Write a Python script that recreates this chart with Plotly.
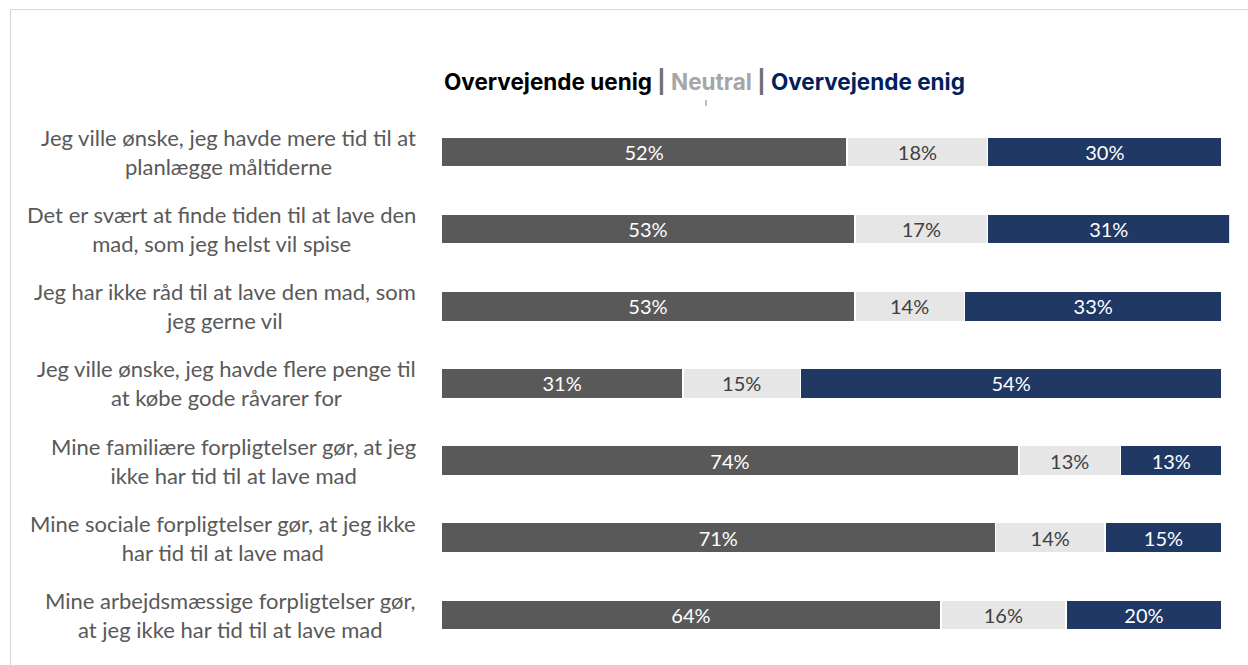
import plotly.graph_objects as go

W, H = 1248, 665

statements = [
    "Jeg ville ønske, jeg havde mere tid til at<br>planlægge måltiderne",
    "Det er svært at finde tiden til at lave den<br>mad, som jeg helst vil spise",
    "Jeg har ikke råd til at lave den mad, som<br>jeg gerne vil",
    "Jeg ville ønske, jeg havde flere penge til<br>at købe gode råvarer for",
    "Mine familiære forpligtelser gør, at jeg<br>ikke har tid til at lave mad",
    "Mine sociale forpligtelser gør, at jeg ikke<br>har tid til at lave mad",
    "Mine arbejdsmæssige forpligtelser gør,<br>at jeg ikke har tid til at lave mad",
]
uenig = [52, 53, 53, 31, 74, 71, 64]
neutral = [18, 17, 14, 15, 13, 14, 16]
enig = [30, 31, 33, 54, 13, 15, 20]

series = [
    ("Overvejende uenig", uenig, "#595959", "white"),
    ("Neutral", neutral, "#E7E6E6", "#404040"),
    ("Overvejende enig", enig, "#203864", "white"),
]

# x axis: 0-100 % spans 441..1222 px; a little headroom for rounded rows summing to 101
X0, X100 = 441, 1222
XMAX = 101
x_end = X0 + (X100 - X0) * XMAX / 100

fig = go.Figure()
for name, vals, color, tcolor in series:
    fig.add_trace(go.Bar(
        y=statements, x=vals, name=name, orientation="h",
        marker=dict(color=color, line=dict(color="white", width=1.5)),
        width=0.39,
        text=[f"{v}%" for v in vals], textposition="inside",
        insidetextanchor="middle", textangle=0,
        textfont=dict(family="Lato", size=20, color=tcolor),
        constraintext="none", cliponaxis=False,
    ))

# statement labels, centred per line, right edge left of the bars
for s in statements:
    fig.add_annotation(
        x=418 / W, xref="paper", y=s, yref="y",
        text=s, showarrow=False, xanchor="right", align="center",
        font=dict(family="Lato", size=22, color="#595959"),
    )

# header legend line
legend_text = (
    "<span style='color:#000000'>Overvejende uenig</span>"
    "<span style='color:#6F6F6F'> | </span>"
    "<span style='color:#A6A6A6'>Neutral</span>"
    "<span style='color:#6F6F6F'> | </span>"
    "<span style='color:#002060'>Overvejende enig</span>"
)
fig.add_annotation(
    x=442 / W, xref="paper", y=1 - 82 / H, yref="paper",
    text="<b>" + legend_text + "</b>", showarrow=False,
    xanchor="left", yanchor="middle",
    font=dict(family="Inter", size=22.5),
)

fig.update_layout(
    width=W, height=H,
    margin=dict(l=0, r=0, t=0, b=0),
    paper_bgcolor="white", plot_bgcolor="white",
    barmode="stack", bargap=0.6, showlegend=False,
    xaxis=dict(domain=[X0 / W, x_end / W], range=[0, XMAX],
               visible=False, fixedrange=True),
    yaxis=dict(domain=[1 - 653.4 / H, 1 - 113.4 / H],
               autorange="reversed", visible=False,
               categoryorder="array", categoryarray=statements),
    shapes=[
        dict(type="rect", xref="paper", yref="paper",
             x0=10.5 / W, x1=1.02, y0=-0.02, y1=1 - 9.5 / H,
             line=dict(color="#D9D9D9", width=1.2), fillcolor="rgba(0,0,0,0)"),
        dict(type="line", xref="paper", yref="paper",
             x0=706 / W, x1=706 / W, y0=1 - 100 / H, y1=1 - 106 / H,
             line=dict(color="#7F7F7F", width=1)),
    ],
)

fig.write_html("out.html")
